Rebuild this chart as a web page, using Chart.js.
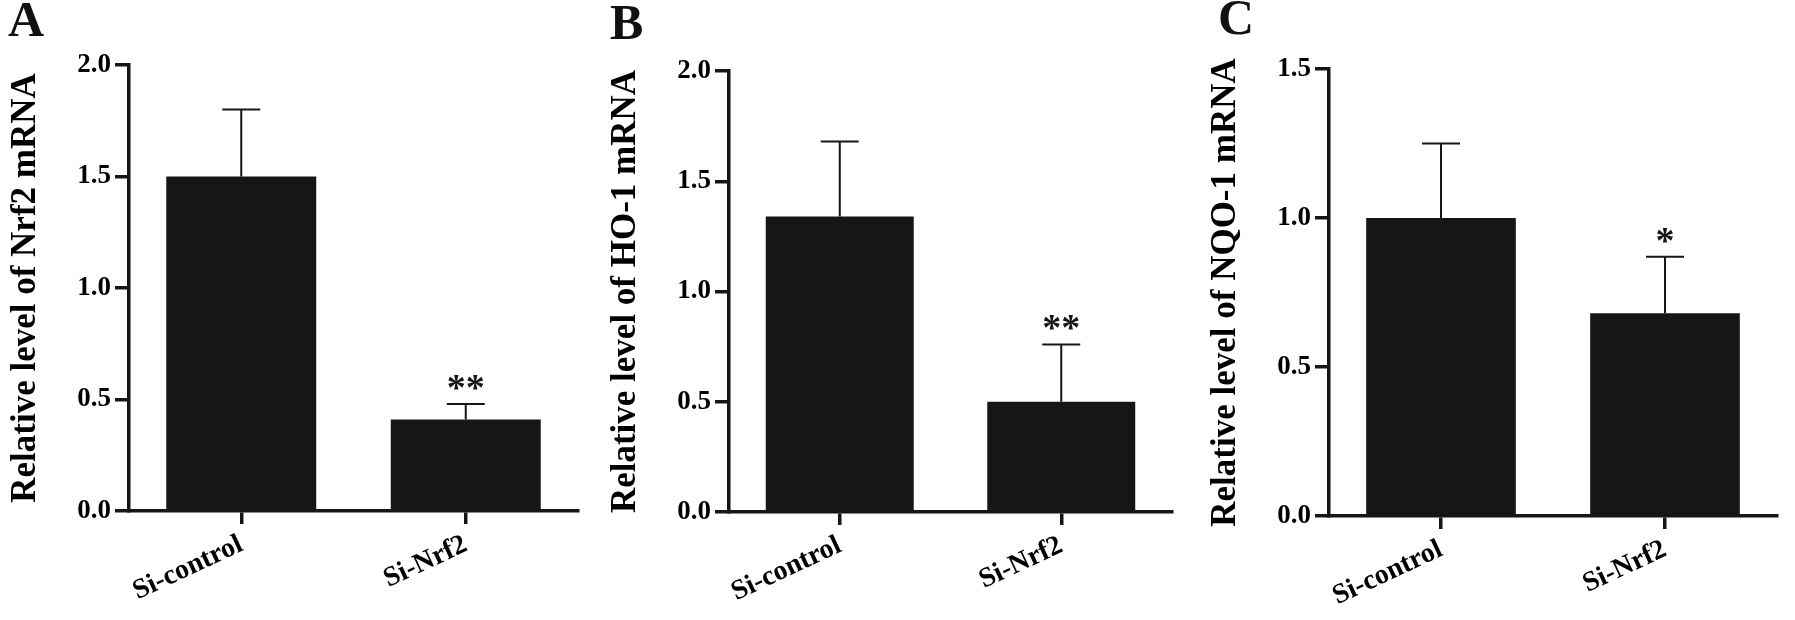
<!DOCTYPE html>
<html>
<head>
<meta charset="utf-8">
<script src="https://cdn.jsdelivr.net/npm/chart.js@4.4.1/dist/chart.umd.min.js"></script>
<style>
  body { margin: 0; background: #fff; width: 1795px; height: 620px; position: relative; overflow: hidden; }
  canvas { position: absolute; top: 0; }
  .letter { position: absolute; font: bold 50px "Liberation Serif", "Times New Roman", serif; line-height: 1; color: #111; }
</style>
</head>
<body>
<canvas id="chartA" width="600" height="620" style="left:0px"></canvas>
<canvas id="chartB" width="600" height="620" style="left:600px"></canvas>
<canvas id="chartC" width="595" height="620" style="left:1200px"></canvas>
<div class="letter" style="left:8px; top:-6px">A</div>
<div class="letter" style="left:610px; top:-3px">B</div>
<div class="letter" style="left:1218px; top:-8px">C</div>
<script>
// values (mean + upper error)
const categories = ['Si-control', 'Si-Nrf2'];
const nrf2Mean = [1.50, 0.41];
const nrf2Err = [0.30, 0.07];
const ho1Mean = [1.34, 0.50];
const ho1Err = [0.34, 0.26];
const nqo1Mean = [1.00, 0.68];
const nqo1Err = [0.25, 0.19];
const nrf2Stars = ['', '**'];
const ho1Stars = ['', '**'];
const nqo1Stars = ['', '*'];
const ticksA = [0, 0.5, 1.0, 1.5, 2.0];
const ticksB = [0, 0.5, 1.0, 1.5, 2.0];
const ticksC = [0, 0.5, 1.0, 1.5];

const INK = '#161616';
const SERIF = '"Liberation Serif", "Times New Roman", serif';

// upper error bars + significance stars
function errorBars(mean, err, stars) {
  return {
    id: 'errorBars',
    afterDatasetsDraw(chart) {
      const { ctx, scales: { y } } = chart;
      const bars = chart.getDatasetMeta(0).data;
      ctx.save();
      ctx.strokeStyle = INK;
      ctx.fillStyle = INK;
      ctx.lineWidth = 2;
      bars.forEach((bar, i) => {
        const top = y.getPixelForValue(mean[i] + err[i]);
        ctx.beginPath();
        ctx.moveTo(bar.x, bar.y);
        ctx.lineTo(bar.x, top);
        ctx.moveTo(bar.x - 19, top);
        ctx.lineTo(bar.x + 19, top);
        ctx.stroke();
        if (stars[i]) {
          ctx.font = 'bold 38px ' + SERIF;
          ctx.textAlign = 'center';
          ctx.textBaseline = 'alphabetic';
          ctx.fillText(stars[i], bar.x, top - 4);
        }
      });
      ctx.restore();
    }
  };
}

function makePanel(id, title, mean, err, stars, ticks, box) {
  new Chart(document.getElementById(id), {
    type: 'bar',
    data: {
      labels: categories,
      datasets: [{
        data: mean,
        backgroundColor: INK,
        categoryPercentage: 1,
        barPercentage: 0.668
      }]
    },
    options: {
      responsive: false,
      animation: false,
      devicePixelRatio: 1,
      layout: { padding: { top: box.top, right: box.right, bottom: 0, left: 0 } },
      plugins: { legend: { display: false }, tooltip: { enabled: false } },
      scales: {
        x: {
          grid: { offset: false, drawOnChartArea: false, tickLength: 13, lineWidth: 3.5, color: INK },
          border: { display: true, width: 3.5, color: INK },
          ticks: {
            color: '#000',
            font: { family: SERIF, size: 28, weight: 'bold' },
            minRotation: 25, maxRotation: 25, padding: 4, autoSkip: false
          },
          afterFit: s => { s.height = box.xHeight; }
        },
        y: {
          min: ticks[0],
          max: ticks[ticks.length - 1],
          afterBuildTicks: s => { s.ticks = ticks.map(v => ({ value: v })); },
          grid: { drawOnChartArea: false, tickLength: 14, lineWidth: 3.5, color: INK },
          border: { display: true, width: 3.5, color: INK },
          ticks: {
            color: '#000',
            font: { family: SERIF, size: 27, weight: 'bold' },
            padding: 4,
            callback: v => v.toFixed(1)
          },
          title: {
            display: true,
            text: title,
            color: '#000',
            font: { family: SERIF, size: 35, weight: 'bold' },
            padding: { top: 5, bottom: 0 }
          },
          afterFit: s => { s.width = 129; }
        }
      }
    },
    plugins: [errorBars(mean, err, stars)]
  });
}

makePanel('chartA', 'Relative level of Nrf2 mRNA', nrf2Mean, nrf2Err, nrf2Stars, ticksA,
  { top: 65, right: 22, xHeight: 109 });
makePanel('chartB', 'Relative level of HO-1 mRNA', ho1Mean, ho1Err, ho1Stars, ticksB,
  { top: 71, right: 28, xHeight: 108 });
makePanel('chartC', 'Relative level of NQO-1 mRNA', nqo1Mean, nqo1Err, nqo1Stars, ticksC,
  { top: 69, right: 18, xHeight: 104 });
</script>
</body>
</html>
